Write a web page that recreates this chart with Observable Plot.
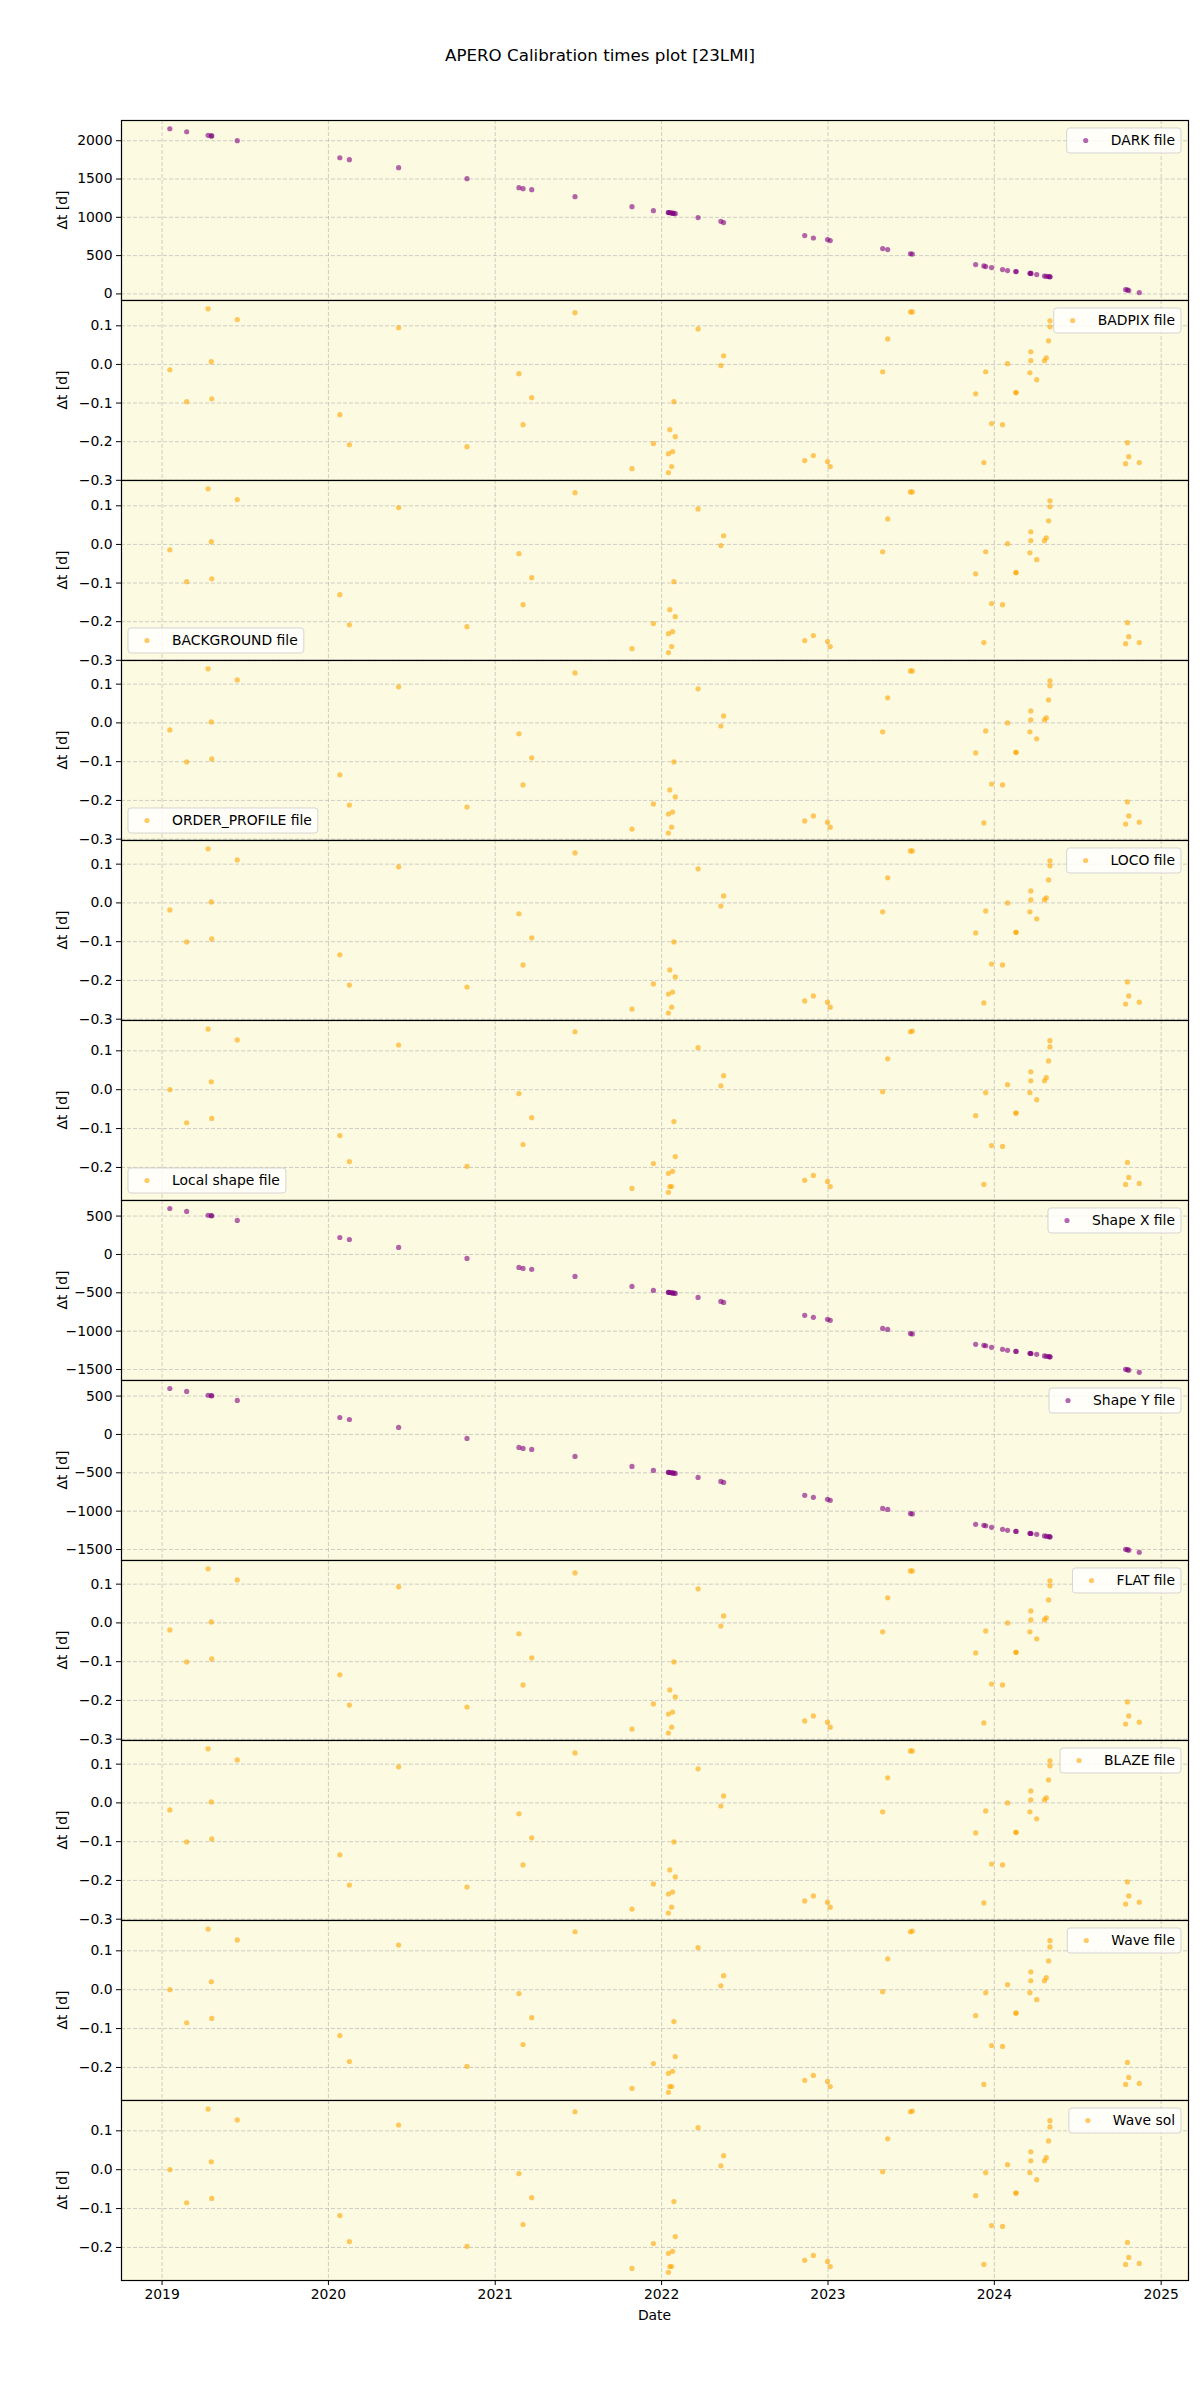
<!DOCTYPE html>
<html><head><meta charset="utf-8">
<script src="https://cdn.jsdelivr.net/npm/d3@7"></script>
<script src="https://cdn.jsdelivr.net/npm/@observablehq/plot@0.6"></script>
<style>
body{margin:0;background:#fff;font-family:"DejaVu Sans",sans-serif;}
#title{height:120px;width:1200px;position:relative;}
#title span{position:absolute;left:0;width:1200px;text-align:center;top:45px;font-size:16.7px;line-height:20px;color:#000;}
#chart{width:1200px;}
#chart svg{display:block;}
</style></head><body>
<div id="title"><span>APERO Calibration times plot [23LMI]</span></div>
<div id="chart"></div>
<script>
// observation dates (shared by all panels)
const dates = [
 "2019-01-18","2019-02-24","2019-04-12","2019-04-19","2019-04-20","2019-06-15",
 "2020-01-26","2020-02-16","2020-06-03","2020-10-31",
 "2021-02-22","2021-03-03","2021-03-22","2021-06-25","2021-10-28","2021-12-14",
 "2022-01-16","2022-01-16","2022-01-19","2022-01-23","2022-01-25","2022-01-28","2022-01-31",
 "2022-03-22","2022-05-11","2022-05-17","2022-11-11","2022-11-30","2022-12-31",
 "2023-01-06","2023-05-01","2023-05-12","2023-07-01","2023-07-05","2023-11-21","2023-12-09","2023-12-13","2023-12-26",
 "2024-01-19","2024-01-30","2024-02-17","2024-02-18","2024-03-19","2024-03-21","2024-03-21","2024-04-03",
 "2024-04-20","2024-04-24","2024-04-29","2024-05-02","2024-05-02","2024-10-15","2024-10-19","2024-10-22","2024-11-14"
];
const darkDt = [
 2156,2117,2070,2063,2062,2000,
 1778,1752,1648,1504,
 1387,1374,1361,1270,1139,1087,
 1063,1063,1060,1056,1054,1051,1048,
 996,948,931,761,730,709,
 696,592,579,524,520,383,365,357,344,
 318,305,292,291,270,268,268,253,
 233,230,226,224,224,57,52,44,18
];
const shapeXDt = [
 599,560,511,505,504,443,
 221,195,91,-52,
 -169,-182,-195,-286,-417,-469,
 -493,-493,-496,-500,-502,-505,-508,
 -560,-612,-625,-794,-820,-846,
 -859,-964,-977,-1032,-1036,-1172,-1185,-1190,-1211,
 -1237,-1250,-1263,-1264,-1289,-1291,-1291,-1302,
 -1323,-1327,-1331,-1334,-1334,-1497,-1502,-1508,-1536
];
const shapeYDt = [
 599,560,511,505,504,443,
 221,195,91,-52,
 -169,-182,-195,-286,-417,-469,
 -493,-493,-496,-500,-502,-505,-508,
 -560,-612,-625,-794,-820,-846,
 -859,-964,-977,-1032,-1036,-1172,-1185,-1190,-1211,
 -1237,-1250,-1263,-1264,-1289,-1291,-1291,-1302,
 -1323,-1327,-1331,-1334,-1334,-1497,-1502,-1508,-1536
];
const badpixDt = [
 -0.014,-0.0965,0.144,0.007,-0.089,0.116,
 -0.130,-0.208,0.095,-0.213,
 -0.024,-0.156,-0.086,0.134,-0.270,-0.205,
 -0.231,-0.280,-0.169,-0.2645,-0.2258,-0.0965,-0.187,
 0.092,-0.003,0.0225,-0.249,-0.236,-0.2516,
 -0.2645,-0.019,0.066,0.136,0.136,-0.076,-0.254,-0.019,-0.153,
 -0.156,0.002,-0.073,-0.073,-0.0215,0.0328,0.0096,-0.0396,
 0.0096,0.0173,0.061,0.0975,0.113,-0.257,-0.2025,-0.2387,-0.254
];
const orderProfileDt = [
 -0.018,-0.1008,0.1395,0.0026,-0.093,0.111,
 -0.134,-0.212,0.093,-0.217,
 -0.028,-0.160,-0.090,0.129,-0.274,-0.209,
 -0.235,-0.284,-0.173,-0.269,-0.230,-0.1008,-0.191,
 0.088,-0.008,0.018,-0.253,-0.240,-0.256,
 -0.269,-0.023,0.0646,0.134,0.134,-0.0775,-0.258,-0.0207,-0.1576,
 -0.160,0.000,-0.076,-0.076,-0.023,0.031,0.0078,-0.041,
 0.0078,0.013,0.0594,0.0956,0.1085,-0.261,-0.204,-0.240,-0.256
];
const waveDt = [
 0.000,-0.085,0.156,0.0205,-0.074,0.128,
 -0.118,-0.185,0.115,-0.197,
 -0.010,-0.141,-0.072,0.149,-0.254,-0.190,
 -0.215,-0.264,-0.249,-0.249,-0.210,-0.082,-0.172,
 0.108,0.010,0.036,-0.233,-0.2205,-0.236,
 -0.249,-0.005,0.0795,0.149,0.151,-0.0667,-0.2436,-0.0077,-0.1436,
 -0.146,0.0128,-0.060,-0.060,-0.0077,0.046,0.023,-0.0256,
 0.023,0.031,0.074,0.110,0.126,-0.2436,-0.187,-0.2256,-0.241
];
const backgroundDt = badpixDt;
const locoDt = orderProfileDt;
const flatDt = orderProfileDt;
const blazeDt = orderProfileDt;
const localShapeDt = waveDt;
const waveFileDt = waveDt;
const waveSolDt = waveDt;

const panelNames = ["DARK file","BADPIX file","BACKGROUND file","ORDER_PROFILE file","LOCO file","Local shape file","Shape X file","Shape Y file","FLAT file","BLAZE file","Wave file","Wave sol"];
const panelSeries = [darkDt,badpixDt,backgroundDt,orderProfileDt,locoDt,localShapeDt,shapeXDt,shapeYDt,flatDt,blazeDt,waveFileDt,waveSolDt];
const panelColors = ["purple","orange","orange","orange","orange","orange","purple","purple","orange","orange","orange","orange"];
const legendLoc = ["ur","ur","ll","ll","ur","ll","ur","ur","ur","ur","ur","ur"];
const darkTicks = [0,500,1000,1500,2000];
const smallTicks = [-0.3,-0.2,-0.1,0.0,0.1];
const waveTicks = [-0.2,-0.1,0.0,0.1];
const shapeTicks = [-1500,-1000,-500,0,500];
const panelTicks = [darkTicks,smallTicks,smallTicks,smallTicks,smallTicks,waveTicks,shapeTicks,shapeTicks,smallTicks,smallTicks,waveTicks,waveTicks];
const panelFormats = ["d",".1f",".1f",".1f",".1f",".1f","d","d",".1f",".1f",".1f",".1f"];
const panelDomains = [[-86,2264],[-0.3005,0.1655],[-0.3005,0.1655],[-0.3034,0.161],[-0.3034,0.161],[-0.285,0.178],[-1643,703],[-1643,703],[-0.3034,0.161],[-0.3034,0.161],[-0.285,0.178],[-0.285,0.178]];
const yearTicks = ["2019","2020","2021","2022","2023","2024","2025"];
const xDomain = ["2018-10-04","2025-03-02"];

const W = 1200, ML = 121, MR = 12, PH = 180;
const chart = document.getElementById("chart");
const xTicks = yearTicks.map(y => new Date(y + "-01-01T00:00:00Z"));

panelNames.forEach((name, i) => {
  const last = i === panelNames.length - 1;
  const data = dates.map((d, k) => ({date: new Date(d + "T00:00:00Z"), dt: panelSeries[i][k]}));
  const fmt = d3.format(panelFormats[i]);
  const marks = [
    Plot.frame({fill: "#fcfae0", stroke: null}),
    Plot.gridX(xTicks, {stroke: "#b0b0b0", strokeOpacity: 0.6, strokeDasharray: "4,2", strokeWidth: 1}),
    Plot.gridY(panelTicks[i], {stroke: "#b0b0b0", strokeOpacity: 0.6, strokeDasharray: "4,2", strokeWidth: 1}),
    Plot.axisY({ticks: panelTicks[i], tickFormat: fmt, tickSize: 5, tickPadding: 4, label: null, fontSize: 13.9}),
    Plot.dot(data, {x: "date", y: "dt", r: 2.6, fill: panelColors[i], fillOpacity: 0.6, stroke: null}),
    Plot.frame({stroke: "#000", strokeWidth: 1.2})
  ];
  if (last) {
    marks.push(Plot.axisX({ticks: xTicks, tickFormat: d3.utcFormat("%Y"), tickSize: 5, tickPadding: 4, label: null, fontSize: 13.9}));
  } else {
    marks.push(Plot.axisX({ticks: [], label: null}));
  }
  const svg = Plot.plot({
    width: W, height: last ? PH + 50 : PH,
    marginLeft: ML, marginRight: MR, marginTop: 0, marginBottom: last ? 50 : 0,
    style: {background: "transparent", overflow: "visible", fontFamily: "DejaVu Sans", fontSize: "13.9px", color: "#000"},
    x: {type: "utc", domain: xDomain.map(d => new Date(d + "T00:00:00Z"))},
    y: {domain: panelDomains[i]},
    marks
  });
  chart.appendChild(svg);
  const s = d3.select(svg);
  // y label
  s.append("text").attr("transform", `translate(62,${PH/2}) rotate(-90)`)
    .attr("text-anchor", "middle").attr("dy", "0.35em")
    .attr("font-family", "DejaVu Sans").attr("font-size", 13.9).attr("fill", "#000").text("Δt [d]");
  if (last) {
    s.append("text").attr("x", (ML + W - MR) / 2).attr("y", PH + 35).attr("dy", "0.35em")
      .attr("text-anchor", "middle").attr("font-family", "DejaVu Sans").attr("font-size", 13.9).attr("fill", "#000").text("Date");
  }
  // legend
  const g = s.append("g").attr("text-anchor", "start");
  const rect = g.append("rect");
  const t = g.append("text").attr("text-anchor", "start").attr("font-family", "DejaVu Sans").attr("font-size", 13.9).attr("fill", "#000").attr("dy", "0.35em").text(name);
  const tw = t.node().getComputedTextLength();
  const bw = tw + 50, bh = 25;
  const x0 = legendLoc[i] === "ur" ? (W - MR - 7 - bw) : (ML + 7);
  const y0 = legendLoc[i] === "ur" ? 8 : (PH - 7 - bh);
  rect.attr("x", x0).attr("y", y0).attr("width", bw).attr("height", bh).attr("rx", 3)
    .attr("fill", "#fff").attr("fill-opacity", 0.8).attr("stroke", "#ccc").attr("stroke-opacity", 0.8);
  g.append("circle").attr("cx", x0 + 19).attr("cy", y0 + bh/2).attr("r", 2.6).attr("fill", panelColors[i]).attr("fill-opacity", 0.6);
  t.attr("x", x0 + 44).attr("y", y0 + bh/2);
});
</script>
</body></html>
